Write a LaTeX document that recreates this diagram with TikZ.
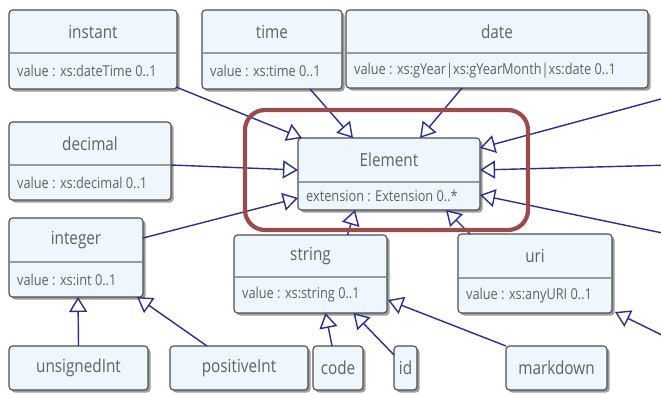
\documentclass[tikz,border=0pt]{standalone}
\usepackage{fontspec}
\setmainfont{Open Sans}[FakeStretch=0.85]
\usetikzlibrary{arrows.meta,shadows,calc}

\definecolor{boxfill}{HTML}{EEF6FE}
\definecolor{boxline}{HTML}{4E4E4E}
\definecolor{divline}{HTML}{9A9A9A}
\definecolor{txt}{HTML}{626262}
\definecolor{gen}{HTML}{2C2C94}
\definecolor{focusred}{HTML}{9A4B4B}

\tikzset{
  gentip/.tip={Triangle[length=15pt, width=18pt, fill=white]},
  clsbox/.style={draw=boxline, fill=boxfill, line width=1.1pt, rounded corners=3.5pt,
    inner sep=0pt, outer sep=0pt,
    drop shadow={shadow xshift=2.5pt, shadow yshift=-2.5pt, opacity=0.55, fill=black!70}},
  divider/.style={draw=divline, line width=1.6pt},
  clstitle/.style={text=txt, font=\fontsize{18}{20}\selectfont, inner sep=0pt},
  clsattr/.style={text=txt, font=\fontsize{15}{17}\selectfont, inner sep=0pt, anchor=west},
  genarrow/.style={draw=gen, line width=1.4pt, -gentip},
  focusframe/.style={draw=focusred, line width=4.2pt, rounded corners=20pt}
}

% class with a title and one attribute compartment:
% name, x1, y1, x2, y2, divider y, title, attribute
\newcommand\umlclass[8]{%
  \pgfmathsetmacro\cw{#4-#2}\pgfmathsetmacro\ch{#5-#3}%
  \pgfmathsetmacro\cx{(#2+#4)/2}\pgfmathsetmacro\cy{(#3+#5)/2}%
  \pgfmathsetmacro\ty{(#3+#6)/2}\pgfmathsetmacro\ay{(#6+#5)/2}%
  \node[clsbox, minimum width=\cw pt, minimum height=\ch pt] (#1) at (\cx,\cy) {};
  \draw[divider] ($(#1.west |- 0,#6)+(0.6,0)$) -- ($(#1.east |- 0,#6)+(-0.6,0)$);
  \node[clstitle] (#1-title) at (\cx,\ty) {#7};
  \node[clsattr] (#1-attr) at (#2+8,\ay) {#8};
}
% class with a title only: name, x1, y1, x2, y2, title
\newcommand\umlleaf[6]{%
  \pgfmathsetmacro\cw{#4-#2}\pgfmathsetmacro\ch{#5-#3}%
  \pgfmathsetmacro\cx{(#2+#4)/2}\pgfmathsetmacro\cy{(#3+#5)/2}%
  \node[clsbox, minimum width=\cw pt, minimum height=\ch pt] (#1) at (\cx,\cy) {};
  \node[clstitle] (#1-title) at (\cx,\cy) {#6};
}

\begin{document}
\begin{tikzpicture}[x=1pt, y=-1pt]
\useasboundingbox[fill=white] (0,0) rectangle (661,394);

% classes
\umlclass{instant}{9}{10}{177}{89}{53}{instant}{value : xs:dateTime 0..1}
\umlclass{time}{202}{10}{342}{89}{53}{time}{value : xs:time 0..1}
\umlclass{date}{346}{10}{648}{88}{53}{date}{value : xs:gYear|xs:gYearMonth|xs:date 0..1}
\umlclass{decimal}{9}{122}{171}{200}{165}{decimal}{value : xs:decimal 0..1}
\umlclass{element}{298}{138}{480}{210}{182}{Element}{extension : Extension 0..*}
\umlclass{integer}{9}{218}{143}{297}{262}{integer}{value : xs:int 0..1}
\umlclass{string}{234}{235}{387}{313}{277}{string}{value : xs:string 0..1}
\umlclass{uri}{458}{234}{612}{313}{278}{uri}{value : xs:anyURI 0..1}

\umlleaf{unsignedInt}{9}{346}{148}{390}{unsignedInt}
\umlleaf{positiveInt}{170}{346}{308}{390}{positiveInt}
\umlleaf{code}{313}{346}{363}{390}{code}
\umlleaf{id}{394}{346}{417}{390}{id}
\umlleaf{markdown}{506}{346}{607}{390}{markdown}

% specialisations continuing past the right edge
\coordinate (ext1) at (672,96);
\coordinate (ext2) at (672,165);
\coordinate (ext3) at (672,235);
\coordinate (ext4) at (672,340);

% generalisation arrows
\draw[genarrow] ($(instant.south east)+(-1,-2)$) -- ($(element.north west)+(4,0)$);
\draw[genarrow] ($(time.south)+(38,0)$) -- ($(element.north west)+(55,0)$);
\draw[genarrow] ($(date.south)+(-35,0)$) -- ($(element.north west)+(122,0)$);
\draw[genarrow] ($(decimal.east)+(0,4)$) -- ($(element.west)+(0,-4)$);
\draw[genarrow] ($(integer.north east)+(0,20)$) -- ($(element.south west)+(0,-12)$);
\draw[genarrow] ($(string.north)+(37,0)$) -- ($(element.south west)+(57,0)$);
\draw[genarrow] ($(uri.north west)+(12,0)$) -- ($(element.south west)+(148,0)$);
\draw[genarrow] (ext1) -- ($(element.north east)+(0,10)$);
\draw[genarrow] (ext2) -- ($(element.east)+(0,-4)$);
\draw[genarrow] (ext3) -- ($(element.south east)+(0,-15)$);
\draw[genarrow] (ext4) -- ($(uri.south east)+(3,-1)$);

\draw[genarrow] (unsignedInt.north) -- ($(integer.south)+(2,0)$);
\draw[genarrow] ($(positiveInt.north)+(-32,0)$) -- ($(integer.south east)+(-6,0)$);
\draw[genarrow] ($(code.north)+(-6,0)$) -- ($(string.south)+(15,0)$);
\draw[genarrow] ($(id.north west)+(0,9)$) -- ($(string.south)+(43,0)$);
\draw[genarrow] (markdown.north west) -- ($(string.south east)+(1,-13)$);

% highlight around Element
\node[focusframe, minimum width=283pt, minimum height=120pt, inner sep=0pt] (focus) at (386.5,170) {};
\end{tikzpicture}
\end{document}
